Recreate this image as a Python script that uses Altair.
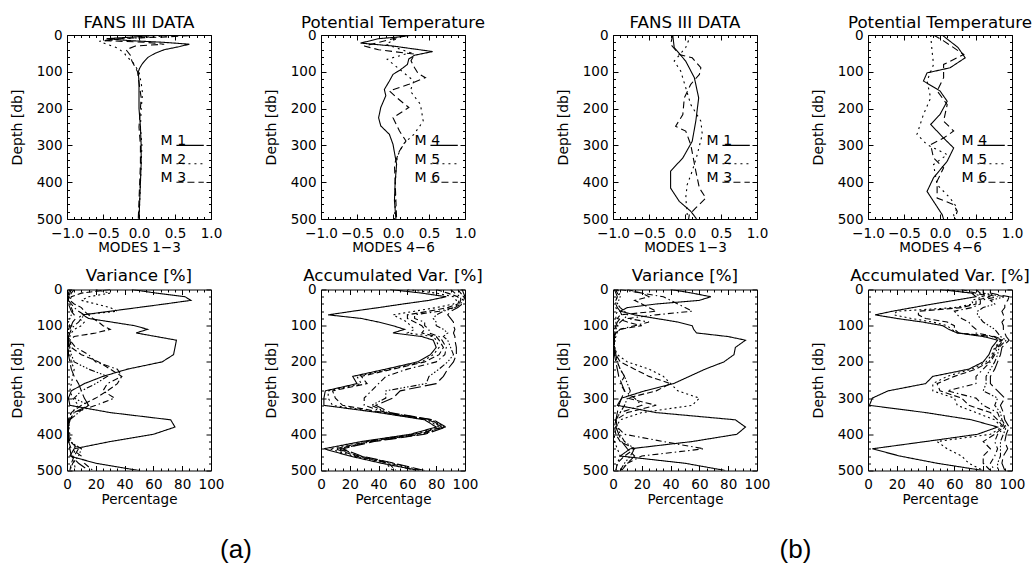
import altair as alt
import pandas as pd

# ---------------- data ----------------
# Top panels: (depth [db], mode amplitude) pairs
# (a) FANS III, modes 1-3
A_M1 = [(0, 0.30), (5, -0.05), (10, -0.45), (15, -0.15), (20, 0.35), (25, 0.70), (32, 0.55), (40, 0.35),
        (50, 0.22), (60, 0.13), (70, 0.08), (80, 0.04), (90, 0.01), (100, -0.01), (130, 0.0), (160, 0.0),
        (200, 0.0), (250, 0.02), (300, 0.03), (350, 0.03), (400, 0.02), (450, 0.01), (500, 0.0)]
A_M2 = [(0, 0.55), (5, 0.2), (10, -0.2), (17, -0.55), (25, -0.45), (35, -0.3), (50, -0.2), (60, -0.17),
        (70, -0.1), (85, -0.05), (100, 0.0), (130, 0.03), (160, 0.05), (200, 0.03), (250, 0.02),
        (300, 0.04), (350, 0.03), (400, 0.02), (450, 0.01), (500, 0.0)]
A_M3 = [(0, 0.85), (5, 0.4), (10, -0.3), (15, -0.5), (20, 0.1), (25, 0.35), (30, -0.05), (40, -0.18),
        (55, -0.12), (70, -0.1), (85, -0.06), (100, -0.02), (130, 0.0), (170, 0.03), (200, 0.02),
        (250, 0.0), (300, 0.02), (350, 0.02), (400, 0.01), (450, 0.0), (500, -0.01)]
# (a) Potential temperature, modes 4-6
A_M4 = [(0, 0.29), (5, 0.1), (10, -0.2), (22, -0.45), (30, 0.0), (45, 0.55), (55, 0.3), (65, 0.22),
        (80, 0.2), (95, 0.1), (107, 0.0), (125, -0.05), (148, -0.12), (165, -0.1), (197, -0.17),
        (225, -0.2), (247, -0.17), (270, -0.05), (297, 0.0), (330, 0.03), (351, 0.05), (400, 0.03),
        (450, 0.02), (500, 0.04)]
A_M5 = [(0, 0.1), (10, 0.05), (25, -0.1), (48, 0.24), (66, -0.08), (93, 0.09), (125, 0.29), (152, 0.24),
        (188, 0.38), (234, 0.42), (270, 0.29), (297, 0.14), (330, 0.06), (370, 0.04), (420, 0.03),
        (470, 0.03), (500, 0.02)]
A_M6 = [(0, 0.2), (10, 0.0), (30, -0.4), (40, -0.2), (52, 0.3), (70, 0.25), (89, 0.3), (105, 0.35),
        (116, 0.45), (134, 0.22), (152, -0.05), (170, 0.05), (197, 0.22), (225, 0.0), (261, 0.09),
        (288, 0.18), (315, 0.09), (351, 0.02), (400, 0.03), (450, 0.04), (500, 0.05)]
# (b) FANS III, modes 1-3
B_M1 = [(0, -0.17), (34, -0.15), (71, 0.01), (116, 0.13), (171, 0.19), (234, 0.15), (289, 0.1),
        (334, -0.03), (370, -0.2), (416, -0.2), (452, -0.08), (479, 0.08), (497, 0.15), (500, 0.16)]
B_M2 = [(0, 0.08), (34, 0.01), (71, -0.15), (98, -0.06), (143, 0.01), (189, 0.08), (234, 0.22),
        (270, 0.24), (325, 0.17), (370, 0.1), (407, 0.03), (443, 0.01), (479, 0.03), (500, 0.03)]
B_M3 = [(0, -0.17), (25, -0.2), (53, -0.08), (62, 0.1), (89, 0.22), (107, 0.2), (134, 0.08), (171, -0.01),
        (216, -0.03), (248, -0.13), (261, 0.01), (298, 0.08), (370, 0.15), (416, 0.2), (443, 0.29),
        (470, 0.15), (488, 0.06), (500, 0.05)]
# (b) Potential temperature, modes 4-6
B_M4 = [(0, 0.03), (34, 0.25), (62, 0.35), (89, 0.14), (103, -0.18), (125, -0.23), (152, 0.0), (180, 0.1),
        (216, 0.0), (243, -0.13), (280, 0.05), (307, 0.19), (343, 0.1), (388, -0.09), (425, -0.18),
        (452, -0.09), (488, 0.03), (500, 0.05)]
B_M5 = [(0, -0.13), (44, -0.11), (80, -0.09), (125, -0.18), (171, -0.13), (216, -0.23), (270, -0.32),
        (298, -0.18), (325, 0.1), (352, -0.09), (407, -0.04), (443, 0.14), (470, 0.24), (488, 0.19),
        (500, 0.2)]
B_M6 = [(0, -0.09), (16, 0.05), (53, 0.33), (80, 0.05), (116, 0.05), (152, -0.04), (189, 0.1), (234, 0.05),
        (261, 0.19), (280, 0.05), (298, -0.13), (334, -0.09), (361, 0.05), (397, -0.04), (443, -0.04),
        (461, 0.19), (479, 0.24), (497, 0.21), (500, 0.21)]

# Bottom panels: values [%] at these depths
BOT_DEPTHS = [0, 10, 20, 30, 40, 50, 60, 70, 80, 90, 100, 110, 120, 130, 140, 160, 180, 200, 220, 240,
              260, 280, 300, 320, 340, 360, 380, 400, 420, 440, 460, 480, 500]
# (a) variance per mode
VAR_A1 = [45, 62, 82, 86, 68, 49, 30, 11, 15, 31, 47, 56, 48, 62, 76, 75, 74, 66, 42, 25, 12, 3, 1, 2, 30, 72, 75, 60, 30, 5, 2, 20, 50]
VAR_A2 = [20, 30, 15, 10, 20, 30, 35, 10, 8, 12, 10, 5, 3, 2, 1, 1, 2, 3, 5, 4, 3, 2, 4, 8, 3, 1, 1, 2, 3, 6, 4, 5, 6]
VAR_A3 = [30, 10, 3, 2, 5, 10, 12, 15, 18, 22, 25, 30, 20, 5, 2, 3, 10, 22, 30, 38, 35, 28, 20, 10, 3, 1, 1, 1, 2, 8, 5, 3, 2]
VAR_A4 = [5, 3, 2, 1, 3, 5, 8, 12, 10, 8, 5, 3, 2, 1, 2, 6, 15, 20, 35, 38, 28, 25, 33, 20, 5, 2, 1, 1, 1, 3, 10, 12, 18]
VAR_A5 = [2, 1, 1, 1, 2, 3, 4, 3, 2, 1, 2, 1, 1, 1, 1, 2, 3, 5, 15, 28, 20, 10, 5, 15, 8, 2, 1, 1, 2, 10, 8, 4, 2]
VAR_A6 = [3, 2, 1, 1, 1, 2, 3, 5, 6, 4, 3, 2, 2, 1, 1, 1, 1, 2, 3, 5, 8, 10, 12, 15, 5, 2, 1, 1, 1, 2, 3, 8, 15]
# (a) accumulated variance
ACC_A1 = [48, 70, 87, 75, 57, 40, 22, 5, 28, 40, 50, 58, 50, 70, 78, 80, 76, 67, 45, 22, 25, 3, 2, 2, 40, 72, 80, 62, 28, 2, 20, 42, 68]
ACC_A2 = [60, 80, 92, 94, 92, 80, 65, 50, 55, 60, 62, 65, 60, 78, 80, 82, 78, 70, 48, 25, 28, 5, 5, 8, 42, 74, 82, 64, 30, 6, 22, 45, 50]
ACC_A3 = [80, 88, 95, 96, 95, 88, 75, 60, 60, 65, 70, 72, 70, 80, 82, 85, 82, 72, 50, 28, 32, 8, 10, 15, 44, 75, 84, 66, 32, 10, 24, 47, 52]
ACC_A4 = [90, 93, 97, 97, 96, 92, 82, 65, 65, 72, 72, 75, 75, 82, 84, 87, 86, 80, 60, 45, 40, 35, 30, 30, 45, 76, 85, 68, 34, 12, 26, 48, 65]
ACC_A5 = [95, 97, 99, 98, 97, 93, 85, 80, 78, 80, 80, 85, 88, 85, 88, 90, 92, 88, 82, 75, 73, 45, 45, 35, 46, 77, 86, 70, 35, 14, 27, 50, 70]
ACC_A6 = [98, 99, 100, 99, 98, 95, 90, 88, 90, 92, 92, 93, 92, 93, 93, 94, 94, 92, 88, 85, 80, 55, 50, 38, 48, 78, 87, 72, 37, 15, 28, 51, 72]
# (b) variance per mode
VAR_B1 = [40, 55, 68, 60, 30, 10, 5, 15, 30, 45, 55, 56, 58, 80, 92, 85, 84, 77, 64, 53, 42, 22, 6, 3, 30, 85, 92, 86, 55, 12, 5, 50, 78]
VAR_B2 = [3, 5, 3, 2, 2, 2, 3, 2, 2, 2, 2, 2, 3, 2, 1, 1, 3, 10, 25, 35, 40, 45, 60, 55, 20, 5, 2, 1, 1, 3, 5, 3, 2]
VAR_B3 = [10, 20, 25, 15, 20, 25, 30, 5, 3, 10, 20, 5, 2, 1, 1, 1, 2, 5, 15, 25, 40, 30, 10, 30, 10, 2, 1, 2, 5, 15, 8, 3, 2]
VAR_B4 = [5, 20, 35, 40, 45, 50, 55, 30, 10, 25, 15, 5, 2, 1, 1, 1, 1, 3, 5, 8, 5, 8, 15, 20, 5, 2, 3, 8, 35, 63, 20, 10, 5]
VAR_B5 = [2, 3, 5, 4, 3, 5, 8, 10, 8, 5, 3, 2, 1, 1, 1, 1, 2, 3, 5, 8, 10, 12, 10, 8, 5, 2, 3, 5, 8, 15, 12, 8, 5]
VAR_B6 = [1, 2, 3, 2, 2, 3, 5, 6, 5, 3, 2, 1, 1, 1, 1, 1, 1, 2, 3, 4, 6, 8, 6, 4, 3, 2, 2, 4, 6, 10, 15, 10, 6]
# (b) accumulated variance
ACC_B1 = [50, 72, 75, 60, 45, 31, 17, 5, 20, 38, 52, 56, 62, 80, 90, 86, 84, 80, 70, 45, 40, 14, 3, 1, 40, 72, 90, 76, 40, 3, 22, 48, 80]
ACC_B2 = [55, 72, 80, 72, 73, 60, 20, 18, 30, 45, 55, 58, 62, 86, 92, 88, 86, 82, 72, 55, 45, 45, 60, 62, 75, 88, 93, 85, 48, 55, 65, 70, 80]
ACC_B3 = [65, 75, 85, 75, 75, 65, 35, 35, 40, 55, 60, 60, 63, 87, 93, 89, 87, 84, 75, 60, 48, 50, 65, 70, 85, 90, 94, 88, 80, 85, 80, 80, 85]
ACC_B4 = [75, 78, 90, 78, 78, 72, 60, 62, 65, 70, 72, 75, 75, 88, 94, 90, 88, 85, 80, 75, 75, 55, 75, 80, 90, 92, 95, 90, 88, 90, 88, 85, 88]
ACC_B5 = [80, 80, 95, 85, 88, 80, 76, 76, 78, 80, 84, 88, 90, 92, 96, 91, 90, 88, 85, 82, 82, 80, 90, 88, 92, 93, 96, 94, 92, 92, 92, 90, 90]
ACC_B6 = [85, 85, 98, 97, 95, 95, 93, 94, 95, 93, 94, 94, 95, 96, 98, 93, 92, 90, 88, 85, 85, 90, 95, 92, 94, 95, 98, 96, 95, 97, 94, 93, 95]

# labels and ticks
LEG_A = ["M 1", "M 2", "M 3"]
LEG_B = ["M 4", "M 5", "M 6"]
MODE_NAMES = ["1", "2", "3", "4", "5", "6"]
DEPTH_LABELS = [0, 100, 200, 300, 400, 500]
DEPTH_TICKS = list(range(0, 501, 20))
MODE_LABELS = [-1.0, -0.5, 0.0, 0.5, 1.0]
MODE_TICKS = [round(-1 + 0.1 * i, 1) for i in range(21)]
PCT_LABELS = [0, 20, 40, 60, 80, 100]
PCT_TICKS = list(range(0, 101, 5))

# ---------------- styling / layout ----------------
FONT = "DejaVu Sans"
W = 144
H_TOP = 184
H_BOT = 181
MAJOR, MINOR = 5, 2.5
TOP_DASH = [[1, 0], [2, 4], [7, 4]]
BOT_DASH = [[1, 0], [2, 3], [6, 3], [6, 3, 1.5, 3], [6, 2, 1.5, 2, 1.5, 2, 1.5, 2], [12, 4]]
LEG_DEPTHS = [300, 350, 400]
LEG_TEXT_X = 0.30
LEG_LINE_X0, LEG_LINE_X1 = 0.52, 0.90


def top_df(names, series):
    rows = []
    for name, pairs in zip(names, series):
        for d, v in pairs:
            rows.append({"series": name, "depth": d, "value": v})
    return pd.DataFrame(rows)


def bot_df(series):
    rows = []
    for name, vals in zip(MODE_NAMES, series):
        for d, v in zip(BOT_DEPTHS, vals):
            rows.append({"series": name, "depth": d, "value": v})
    return pd.DataFrame(rows)


def tick_axis(orient, offset, values, test):
    return alt.Axis(orient=orient, offset=offset, values=values, labels=False, domain=False,
                    grid=False, ticks=True, title=None, tickColor="black", tickWidth=1,
                    tickSize={"condition": {"test": test, "value": MAJOR}, "value": MINOR})


def panel(df, kind, title, title_x, h, title_off, dash_domain, dash_range, legend=None):
    if kind == "mode":
        xdom, xlab, xfmt, xt = [-1, 1], MODE_LABELS, ".1f", MODE_TICKS
        xtest = "abs(datum.value * 2 - round(datum.value * 2)) < 0.001"
    else:
        xdom, xlab, xfmt, xt = [0, 100], PCT_LABELS, "d", PCT_TICKS
        xtest = "datum.value % 20 === 0"
    ytest = "datum.value % 100 === 0"
    xs = alt.Scale(domain=xdom, nice=False, zero=False)
    ys = alt.Scale(domain=[0, 500], reverse=True, nice=False, zero=False)

    main_x = alt.Axis(values=xlab, format=xfmt, ticks=False, tickSize=0, domain=False, grid=False,
                      labelFlush=False, labelOverlap=False, labelPadding=7, labelFontSize=13.5,
                      title=title_x, titlePadding=1, titleFontSize=13.5)
    main_y = alt.Axis(values=DEPTH_LABELS, ticks=False, tickSize=0, domain=False, grid=False,
                      labelOverlap=False, labelPadding=5, labelFontSize=13.5,
                      title="Depth [db]", titleFontSize=14, titleX=-50, titleY=h / 2,
                      titleBaseline="middle", titleAngle=270)
    sdash = alt.StrokeDash("series:N", scale=alt.Scale(domain=dash_domain, range=dash_range), legend=None)

    lines = alt.Chart(df).mark_line(clip=True, color="black", strokeWidth=1.1).encode(
        x=alt.X("value:Q", scale=xs, axis=main_x),
        y=alt.Y("depth:Q", scale=ys, axis=main_y),
        strokeDash=sdash,
        order=alt.Order("depth:Q"),
    )
    t1 = alt.Chart(df).mark_point(opacity=0).encode(
        x=alt.X("value:Q", scale=xs, axis=tick_axis("top", -h, xt, xtest)),
        y=alt.Y("depth:Q", scale=ys, axis=tick_axis("right", -W, DEPTH_TICKS, ytest)),
    )
    t2 = alt.Chart(df).mark_point(opacity=0).encode(
        x=alt.X("value:Q", scale=xs, axis=tick_axis("bottom", -h, xt, xtest)),
        y=alt.Y("depth:Q", scale=ys, axis=tick_axis("left", -W, DEPTH_TICKS, ytest)),
    )
    layers = [lines, t1, t2]
    if legend is not None:
        ldf = pd.DataFrame({"series": legend, "depth": LEG_DEPTHS})
        rules = alt.Chart(ldf).mark_rule(color="black", strokeWidth=1.1).encode(
            x=alt.XDatum(LEG_LINE_X0, axis=None),
            x2=alt.X2Datum(LEG_LINE_X1),
            y=alt.Y("depth:Q", scale=ys, axis=None),
            strokeDash=sdash,
        )
        texts = alt.Chart(ldf).mark_text(align="left", baseline="alphabetic", font=FONT,
                                         fontSize=14, color="black").encode(
            x=alt.XDatum(LEG_TEXT_X, axis=None),
            y=alt.Y("depth:Q", scale=ys, axis=None),
            text="series:N",
        )
        layers += [rules, texts]
    return alt.layer(*layers).resolve_axis(x="independent", y="independent").properties(
        width=W, height=h,
        title=alt.TitleParams(text=title, font=FONT, fontSize=16.7, fontWeight="normal",
                              anchor="middle", frame="group", offset=title_off,
                              baseline="alphabetic", color="black"),
    )


def spacer(w, h, title=None):
    base = alt.Chart(pd.DataFrame({"v": [0]})).mark_point(opacity=0).encode(
        x=alt.X("v:Q", axis=None), y=alt.Y("v:Q", axis=None))
    props = dict(width=w, height=h, view=alt.ViewBackground(stroke="transparent"))
    if title is not None:
        props["title"] = title
    return base.properties(**props)


def sub_label(text, dx):
    return alt.TitleParams(text=text, orient="bottom", font="Liberation Sans", fontSize=26,
                           fontWeight="normal", anchor="middle", frame="group", offset=66,
                           dx=dx, baseline="top", color="black")


TT, TB = -17, -15
pa1 = panel(top_df(LEG_A, [A_M1, A_M2, A_M3]), "mode", "FANS III DATA", "MODES 1\u22123", H_TOP, TT, LEG_A, TOP_DASH, LEG_A)
pa2 = panel(top_df(LEG_B, [A_M4, A_M5, A_M6]), "mode", "Potential Temperature", "MODES 4\u22126", H_TOP, TT, LEG_B, TOP_DASH, LEG_B)
pb1 = panel(top_df(LEG_A, [B_M1, B_M2, B_M3]), "mode", "FANS III DATA", "MODES 1\u22123", H_TOP, TT, LEG_A, TOP_DASH, LEG_A)
pb2 = panel(top_df(LEG_B, [B_M4, B_M5, B_M6]), "mode", "Potential Temperature", "MODES 4\u22126", H_TOP, TT, LEG_B, TOP_DASH, LEG_B)
pa3 = panel(bot_df([VAR_A1, VAR_A2, VAR_A3, VAR_A4, VAR_A5, VAR_A6]), "pct", "Variance [%]", "Percentage", H_BOT, TB, MODE_NAMES, BOT_DASH)
pa4 = panel(bot_df([ACC_A1, ACC_A2, ACC_A3, ACC_A4, ACC_A5, ACC_A6]), "pct", "Accumulated Var. [%]", "Percentage", H_BOT, TB, MODE_NAMES, BOT_DASH)
pb3 = panel(bot_df([VAR_B1, VAR_B2, VAR_B3, VAR_B4, VAR_B5, VAR_B6]), "pct", "Variance [%]", "Percentage", H_BOT, TB, MODE_NAMES, BOT_DASH)
pb4 = panel(bot_df([ACC_B1, ACC_B2, ACC_B3, ACC_B4, ACC_B5, ACC_B6]), "pct", "Accumulated Var. [%]", "Percentage", H_BOT, TB, MODE_NAMES, BOT_DASH)

chart = alt.concat(
    pa1, spacer(110, H_TOP), pa2, spacer(148, H_TOP), pb1, spacer(111, H_TOP), pb2,
    pa3, spacer(110, H_BOT, sub_label("(a)", -30)), pa4, spacer(148, H_BOT), pb3,
    spacer(111, H_BOT, sub_label("(b)", -17)), pb4,
    columns=7, spacing={"row": 70.5, "column": 0}, bounds="flush", align="each",
).resolve_scale(
    x="independent", y="independent", strokeDash="independent"
).properties(
    padding={"left": 9, "top": 14, "right": 0, "bottom": 0}, background="white"
).configure_view(
    stroke="black", strokeWidth=1
).configure_axis(
    labelFont=FONT, titleFont=FONT, labelColor="black", titleColor="black", titleFontWeight="normal"
)

chart.save("out.html", embed_options={"renderer": "svg", "actions": False})
